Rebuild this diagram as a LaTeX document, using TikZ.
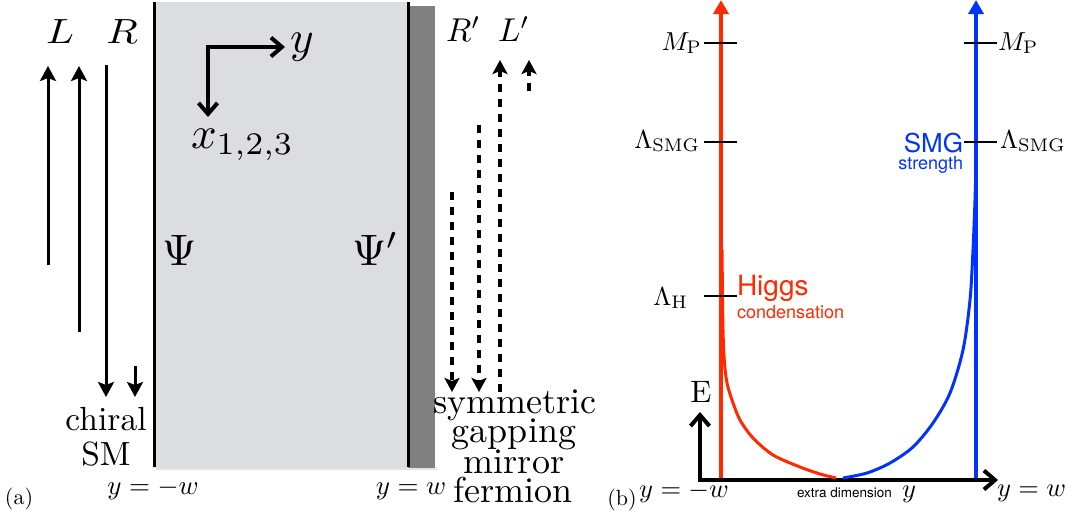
\RequirePackage{fix-cm}
\documentclass[tikz,border=0pt]{standalone}
\usepackage{graphicx}
\usepackage{fontspec}
\newfontfamily\heros{TeX Gyre Heros}
\usetikzlibrary{arrows.meta}
\definecolor{boxgray}{RGB}{220,221,224}
\definecolor{stripgray}{RGB}{128,128,128}
\definecolor{hred}{RGB}{255,42,0}
\definecolor{sblue}{RGB}{0,51,255}
\newcommand{\myfs}[1]{\fontsize{#1}{#1}\selectfont}
\newcommand{\sbx}[2]{\scalebox{#1}{#2}}
\tikzset{
  lab/.style={inner sep=0pt, outer sep=0pt, anchor=base},
  solidarrow/.style={line width=3pt, -{Stealth[length=15pt,width=16pt,inset=3pt]}},
  dasharrow/.style={line width=3.5pt, dash pattern=on 8pt off 7pt, -{Stealth[length=14pt,width=15pt,inset=3pt]}},
  axisarrows/.style={line width=4pt, line join=miter, {Straight Barb[length=11pt,width=19pt]}-{Straight Barb[length=11pt,width=19pt]}},
  colline/.style={line width=4pt, -{Triangle[length=14pt,width=15pt]}},
  colcurve/.style={line width=3pt},
  tickmark/.style={line width=1.5pt},
}
\begin{document}
\begin{tikzpicture}[x=1pt,y=-1pt]
\useasboundingbox (0,0) rectangle (1073,517);
% ---------- panel (a) ----------
\fill[black!10] (156,467) rectangle (437,470);
\fill[boxgray] (154,2) rectangle (408,468);
\fill[stripgray] (408,6) rectangle (435,468);
\draw[line width=3pt] (154,2) -- (154,467);
\draw[line width=3pt] (408,2) -- (408,467);

% solid arrows (L, R)
\coordinate (a1s) at (48,265);  \coordinate (a1e) at (48,66);
\coordinate (a2s) at (79,332);  \coordinate (a2e) at (79,66);
\coordinate (a3s) at (106,65);  \coordinate (a3e) at (106,397);
\coordinate (a4s) at (135,366); \coordinate (a4e) at (135,397);
\draw[solidarrow] (a1s) -- (a1e);
\draw[solidarrow] (a2s) -- (a2e);
\draw[solidarrow] (a3s) -- (a3e);
\draw[solidarrow] (a4s) -- (a4e);

% dashed arrows (R', L')
\coordinate (d1s) at (452,192); \coordinate (d1e) at (452,392);
\coordinate (d2s) at (479,125); \coordinate (d2e) at (479,392);
\coordinate (d3s) at (500,392); \coordinate (d3e) at (500,60);
\coordinate (d4s) at (529,91);  \coordinate (d4e) at (529,60);
\draw[dasharrow] (d1s) -- (d1e);
\draw[dasharrow] (d2s) -- (d2e);
\draw[dasharrow] (d3s) -- (d3e);
\draw[dasharrow] (d4s) -- (d4e);

% coordinate axes in the bulk
\coordinate (ax0) at (208,47);
\coordinate (axy) at (285,47);
\coordinate (axx) at (208,117);
\draw[axisarrows] (axy) -- (ax0) -- (axx);
\node[lab, anchor=base west] (ylab) at (290,52) {\sbx{4.5}{$y$}};
\node[lab, anchor=base west] (xlab) at (191,148) {\sbx{4.5}{$x_{1,2,3}$}};

\node[lab] (Lleft) at (60,43) {\scalebox{4.1}[3.5]{$L$}};
\node[lab] (Rleft) at (122,43) {\scalebox{4.1}[3.5]{$R$}};
\node[lab, anchor=base west] (Rprime) at (446,41) {\sbx{3.3}{$R'$}};
\node[lab, anchor=base west] (Lprime) at (498,41) {\sbx{3.3}{$L'$}};

\node[lab, anchor=base west] (Psi) at (162,265) {\sbx{4.4}{$\Psi$}};
\node[lab, anchor=base west] (Psip) at (352,265) {\sbx{4.4}{$\Psi'$}};

\node[lab] (chiral) at (106,430) {\sbx{3.35}{chiral}};
\node[lab] (SM) at (106,465) {\sbx{3.35}{SM}};

\node[lab] (sym1) at (515,413) {\sbx{3.6}{symmetric}};
\node[lab] (sym2) at (514,442) {\sbx{3.6}{gapping}};
\node[lab] (sym3) at (514,473) {\sbx{3.6}{mirror}};
\node[lab] (sym4) at (513,502) {\sbx{3.6}{fermion}};

\node[lab] (ywl) at (153,494) {\sbx{2.7}{$y=-w$}};
\node[lab] (ywr) at (411,494) {\sbx{2.7}{$y=w$}};
\node[lab] (alab) at (19,504) {\sbx{2.2}{(a)}};

% ---------- panel (b) ----------
\coordinate (bO) at (700,480);
\coordinate (bE) at (700,412);
\coordinate (bY) at (998,480);
\draw[axisarrows] (bE) -- (bO) -- (bY);

\coordinate (rb) at (721,478); \coordinate (rt) at (721,0);
\coordinate (bb) at (976,478); \coordinate (bt) at (976,0);
\draw[colline, hred] (rb) -- (rt);
\draw[colline, sblue] (bb) -- (bt);

\draw[colcurve, hred] plot[smooth] coordinates {(722,250) (723,330) (724.5,363) (727,383) (732,400) (740,420) (753,438) (773,455) (800,467) (820,474) (836,478)};
\draw[colcurve, sblue] plot[smooth] coordinates {(843,478) (867,473) (890,463) (913,447) (933,423) (950,393) (963,350) (970,300) (973,250) (975,200) (976,165)};

\draw[tickmark] (704,43) -- (737,43);
\draw[tickmark] (704,142) -- (737,142);
\draw[tickmark] (704,296) -- (737,296);
\draw[tickmark] (964,43) -- (997,43);
\draw[tickmark] (964,142) -- (997,142);

\node[lab, anchor=base east] (MPl) at (702,50) {\sbx{2.6}{$M_{\mathrm{P}}$}};
\node[lab, anchor=base east] (LSl) at (700,148) {\sbx{2.6}{$\Lambda_{\mathrm{SMG}}$}};
\node[lab, anchor=base east] (LH) at (688,305) {\sbx{2.6}{$\Lambda_{\mathrm{H}}$}};
\node[lab, anchor=base west] (MPr) at (998,50) {\sbx{2.6}{$M_{\mathrm{P}}$}};
\node[lab, anchor=base west] (LSr) at (1000,148) {\sbx{2.6}{$\Lambda_{\mathrm{SMG}}$}};

\node[lab, anchor=base west, text=hred] (higgs) at (737,295) {\myfs{28}\heros Higgs};
\node[lab, anchor=base west, text=hred] (cond) at (737,318) {\myfs{18}\heros condensation};
\node[lab, anchor=base east, text=sblue] (smg) at (963,152) {\myfs{26}\heros SMG};
\node[lab, anchor=base east, text=sblue] (strength) at (963,169) {\myfs{18}\heros strength};

\node[lab] (Elab) at (701,402) {\sbx{3.1}{E}};
\node[lab] (blab) at (622,505) {\sbx{2.2}{(b)}};
\node[lab] (ywl2) at (684,497) {\sbx{2.65}{$y=-w$}};
\node[lab, anchor=base west] (extra) at (797,497) {\myfs{13.5}\heros extra dimension};
\node[lab, anchor=base west] (ylab2) at (902,497) {\sbx{2.65}{$y$}};
\node[lab, anchor=base west] (ywr2) at (997,496) {\sbx{2.65}{$y=w$}};
\end{tikzpicture}
\end{document}
